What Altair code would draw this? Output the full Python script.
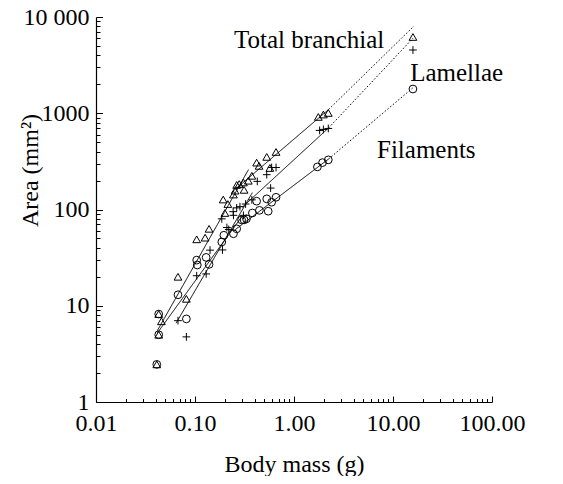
import altair as alt
import pandas as pd

# ---- data ----
tri_mass = [0.0411, 0.0430, 0.0430, 0.0458, 0.0673, 0.0818, 0.104, 0.1265, 0.1387, 0.1927, 0.2004,
            0.2146, 0.2445, 0.2540, 0.2636, 0.2796, 0.3084, 0.3132, 0.3456, 0.3750, 0.4194, 0.4440,
            0.5304, 0.5706, 0.6585, 1.760, 1.980, 2.220, 15.9]
tri_area = [2.46, 5.0, 8.2, 6.9, 20, 11.8, 49, 51, 63, 127, 92,
            114, 143, 157, 180, 184, 191, 160, 199, 224, 307, 284,
            352, 270, 396, 916, 970, 1007, 6200]

plus_mass = [0.0673, 0.0818, 0.104, 0.1296, 0.1418, 0.1895, 0.1864, 0.2099, 0.2445, 0.2636, 0.2843,
             0.3084, 0.3245, 0.3750, 0.4258, 0.5304, 0.5808, 0.5943, 0.6585, 0.2193, 0.2429,
             1.815, 1.980, 2.220, 15.9]
plus_area = [7.0, 4.75, 20.5, 21.4, 37.8, 38, 80, 65, 87, 104, 107,
             87, 114, 126, 196, 230, 167, 273, 273, 62, 95,
             663, 679, 695, 4540]

circ_mass = [0.0411, 0.0430, 0.0430, 0.0673, 0.0818, 0.104, 0.1055, 0.1296, 0.1387, 0.1864, 0.1957,
             0.2445, 0.2636, 0.2956, 0.3132, 0.3311, 0.3799, 0.4194, 0.4474, 0.5304, 0.5487, 0.5943,
             0.6585, 1.724, 1.943, 2.220, 15.9]
circ_area = [2.46, 5.0, 8.2, 13, 7.3, 29.8, 26.5, 31.8, 26.9, 46, 54,
             56, 63, 78, 78, 80, 92, 122, 98, 129, 96, 119,
             134, 277, 307, 328, 1786]

# fitted line segments (endpoints)
seg_id = ["T1", "T2", "T3", "L1", "L2", "L3", "F1", "F2", "F3"]
seg_style = ["solid", "solid", "dotted", "solid", "solid", "dotted", "solid", "solid", "dotted"]
seg_m0 = [0.0416, 0.2350, 2.238, 0.0644, 0.2987, 2.238, 0.0416, 0.2508, 2.238]
seg_a0 = [5.5, 151, 1094, 6.6, 105, 705, 5.2, 61, 335]
seg_m1 = [0.3472, 2.238, 16.3, 0.3799, 2.238, 16.0, 0.2987, 2.238, 15.8]
seg_a1 = [260, 1094, 8060, 150, 705, 6050, 85, 335, 1830]

label_text = ["Total branchial", "Lamellae", "Filaments"]
label_mass = [0.248, 14.9, 6.89]
label_area = [5770, 2620, 415]

x_decades = [0.01, 0.1, 1, 10, 100]
y_decades = [1, 10, 100, 1000, 10000]

# ---- tables ----
pts = pd.DataFrame({
    "mass": tri_mass + plus_mass + circ_mass,
    "area": tri_area + plus_area + circ_area,
    "series": ["Total"] * len(tri_mass) + ["Lamellae"] * len(plus_mass) + ["Filaments"] * len(circ_mass),
})
rows = []
for i, s in enumerate(seg_id):
    rows.append({"seg": s, "style": seg_style[i], "mass": seg_m0[i], "area": seg_a0[i]})
    rows.append({"seg": s, "style": seg_style[i], "mass": seg_m1[i], "area": seg_a1[i]})
lines = pd.DataFrame(rows)
labels = pd.DataFrame({"label": label_text, "mass": label_mass, "area": label_area})

x_ticks = sorted({round(d * k, 6) for d in x_decades[:-1] for k in range(1, 10)} | {100.0})
y_ticks = sorted({round(d * k, 6) for d in y_decades[:-1] for k in range(1, 10)} | {10000.0})

FONT = "Liberation Serif"
W, H = 396, 385

xscale = alt.Scale(type="log", domain=[0.01, 100], nice=False)
yscale = alt.Scale(type="log", domain=[1, 10000], nice=False)

x_label_axis = alt.Axis(
    orient="bottom", values=x_decades, format=".2f", ticks=False, grid=False,
    domainColor="black", domainWidth=1.2, labelFont=FONT, labelFontSize=24,
    labelColor="black", labelPadding=9, labelFlush=False, labelOverlap=False,
    title="Body mass (g)", titleFont=FONT, titleFontSize=24, titleFontWeight="normal",
    titleColor="black", titleY=62, titleBaseline="middle", titleX=W / 2,
)
y_label_axis = alt.Axis(
    orient="left", values=y_decades, ticks=False, grid=False,
    labelExpr="datum.value == 10000 ? '10 000' : format(datum.value, 'd')",
    domainColor="black", domainWidth=1.2, labelFont=FONT, labelFontSize=24,
    labelColor="black", labelPadding=7, labelFlush=False, labelOverlap=False,
    labelBaseline="middle",
    title="Area (mm²)", titleFont=FONT, titleFontSize=24, titleFontWeight="normal",
    titleColor="black", titleX=-66, titleY=153, titleBaseline="middle", titleAlign="center",
)

x_major_test = "indexof([0.01, 0.1, 1, 10, 100], datum.value) >= 0"
y_major_test = "indexof([1, 10, 100, 1000, 10000], datum.value) >= 0"

x_tick_axis = alt.Axis(
    orient="top", offset=-H, values=x_ticks, labels=False, domain=False, grid=False,
    tickColor="black", tickWidth=1,
    tickSize={"condition": {"test": x_major_test, "value": 6}, "value": 3.5},
    title="",
)
y_tick_axis = alt.Axis(
    orient="right", offset=-W, values=y_ticks, labels=False, domain=False, grid=False,
    tickColor="black", tickWidth=1,
    tickSize={"condition": {"test": y_major_test, "value": 6.5}, "value": 4},
    title="",
)

points = alt.Chart(pts).mark_point(filled=False, color="black", strokeWidth=1, size=60, opacity=1).encode(
    x=alt.X("mass:Q", scale=xscale, axis=x_label_axis),
    y=alt.Y("area:Q", scale=yscale, axis=y_label_axis),
    shape=alt.Shape("series:N", legend=None, scale=alt.Scale(
        domain=["Total", "Lamellae", "Filaments"],
        range=["triangle-up", "M-1,0L1,0M0,-1L0,1", "circle"])),
)

fits = alt.Chart(lines).mark_line(color="black", strokeWidth=1).encode(
    x=alt.X("mass:Q", scale=xscale, axis=x_tick_axis),
    y=alt.Y("area:Q", scale=yscale, axis=y_tick_axis),
    detail="seg:N",
    strokeDash=alt.StrokeDash("style:N", legend=None, scale=alt.Scale(
        domain=["solid", "dotted"], range=[[1, 0], [1.5, 2]])),
)

texts = alt.Chart(labels).mark_text(align="left", baseline="middle", font=FONT, fontSize=25, color="black").encode(
    x=alt.X("mass:Q", scale=xscale, axis=None),
    y=alt.Y("area:Q", scale=yscale, axis=None),
    text="label:N",
)

chart = alt.layer(fits, points, texts).resolve_axis(x="independent", y="independent").properties(
    width=W, height=H,
    autosize=alt.AutoSizeParams(type="none"),
    padding={"left": 88, "top": 9, "right": 63, "bottom": 74},
    background="white",
).configure_view(strokeWidth=0)

chart.save("out.html", embed_options={"renderer": "svg", "actions": False})
